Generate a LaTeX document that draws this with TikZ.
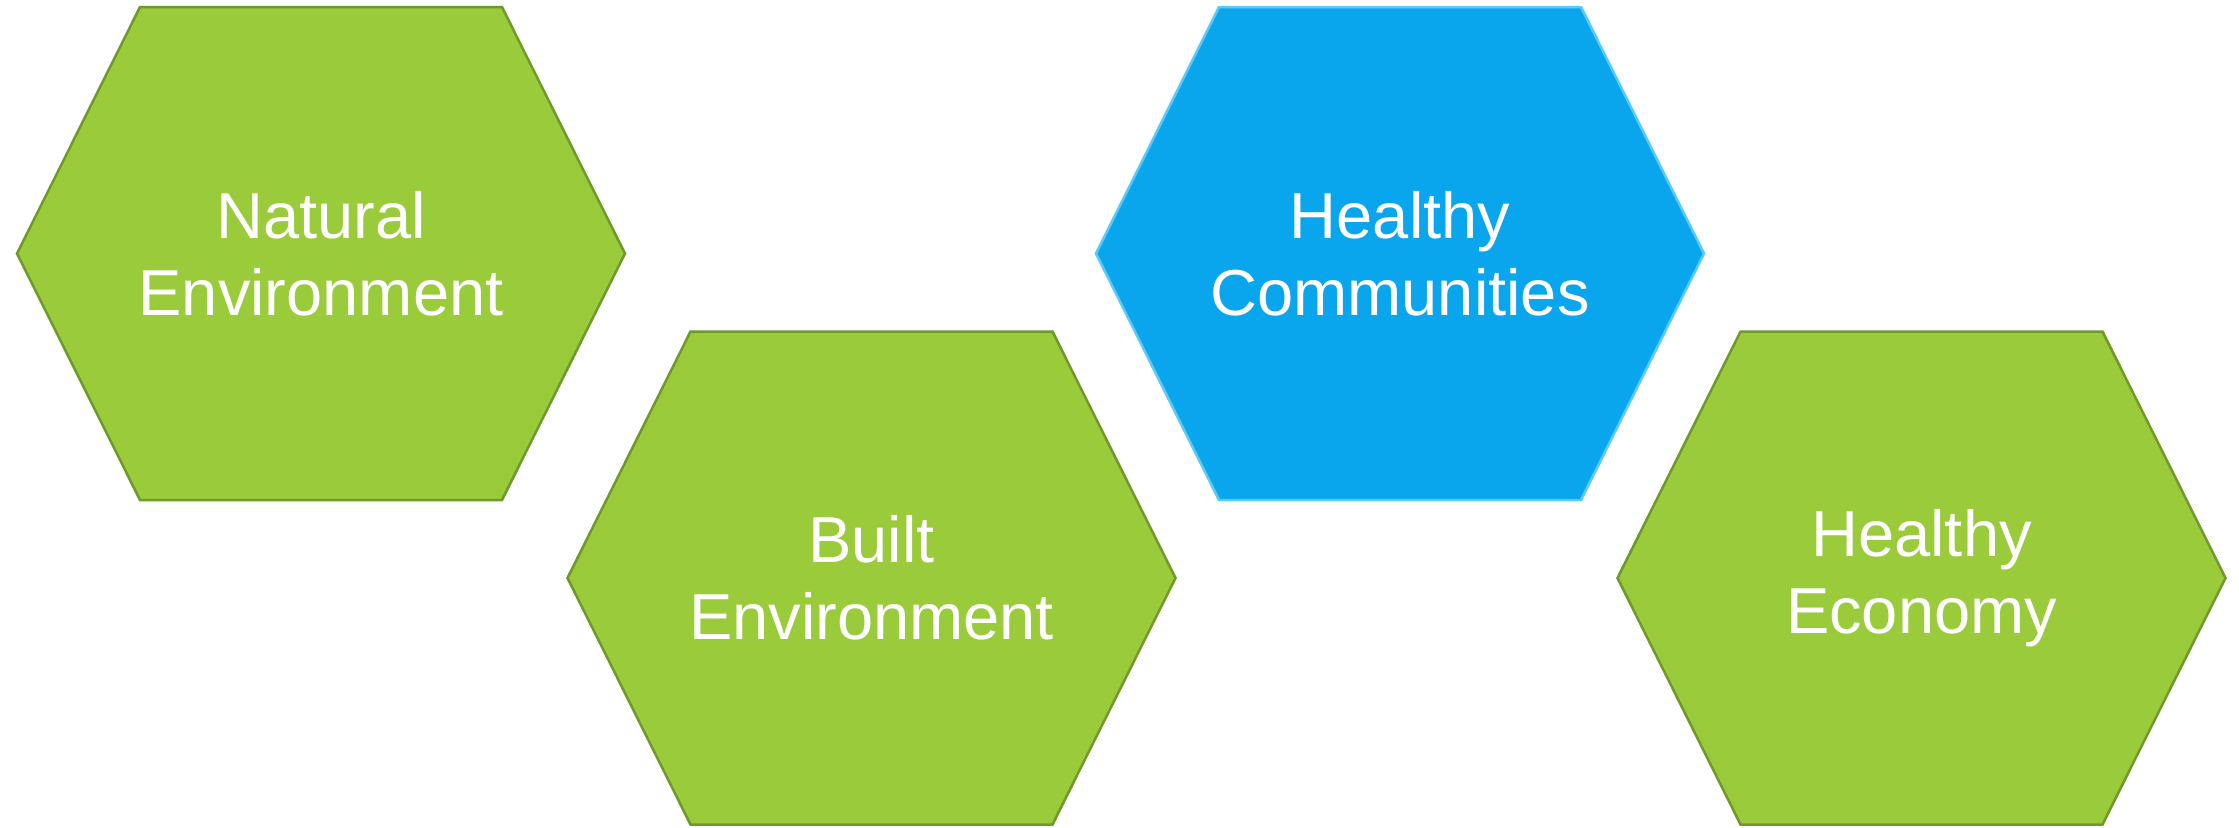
\documentclass[tikz,border=0pt]{standalone}
\usepackage{fontspec}
\setmainfont{Liberation Sans}
\usetikzlibrary{positioning}
\definecolor{cellgreen}{HTML}{9ACB3B}
\definecolor{cellgreenline}{HTML}{6F9A2B}
\definecolor{cellblue}{HTML}{09A6EE}
\definecolor{cellblueline}{HTML}{5CC9F6}

\tikzset{
  hexcell/.style={line width=1.25pt, line join=miter},
  greencell/.style={hexcell, draw=cellgreenline, fill=cellgreen},
  bluecell/.style={hexcell, draw=cellblueline, fill=cellblue},
  celltext/.style={text=white, align=center, inner sep=0pt,
    font=\fontsize{32.5}{38.5}\selectfont}
}
% hexagon round a centre coordinate
\newcommand{\hexcell}[2]{%
  \draw[#1] (#2.center) ++(-304,0) -- ++(123,-246.5) -- ++(362,0)
    -- ++(123,246.5) -- ++(-123,246.5) -- ++(-362,0) -- cycle;}

\begin{document}
\begin{tikzpicture}[x=0.5pt, y=-0.5pt]
  \useasboundingbox (0,0) rectangle (2239,827);

  % centres
  \coordinate (natural) at (321,253.5);
  \coordinate (built) at (871.5,578);
  \coordinate (communities) at (1400,253.5);
  \coordinate (economy) at (1921.5,578);

  \hexcell{greencell}{natural}
  \hexcell{greencell}{built}
  \hexcell{bluecell}{communities}
  \hexcell{greencell}{economy}

  \node[celltext] (naturaltext) at (natural) {Natural\\Environment};
  \node[celltext] (builttext) at (built) {Built\\Environment};
  \node[celltext] (communitiestext) at (communities) {Healthy\\Communities};
  \node[celltext] (economytext) at (economy) {Healthy\\Economy};
\end{tikzpicture}
\end{document}
